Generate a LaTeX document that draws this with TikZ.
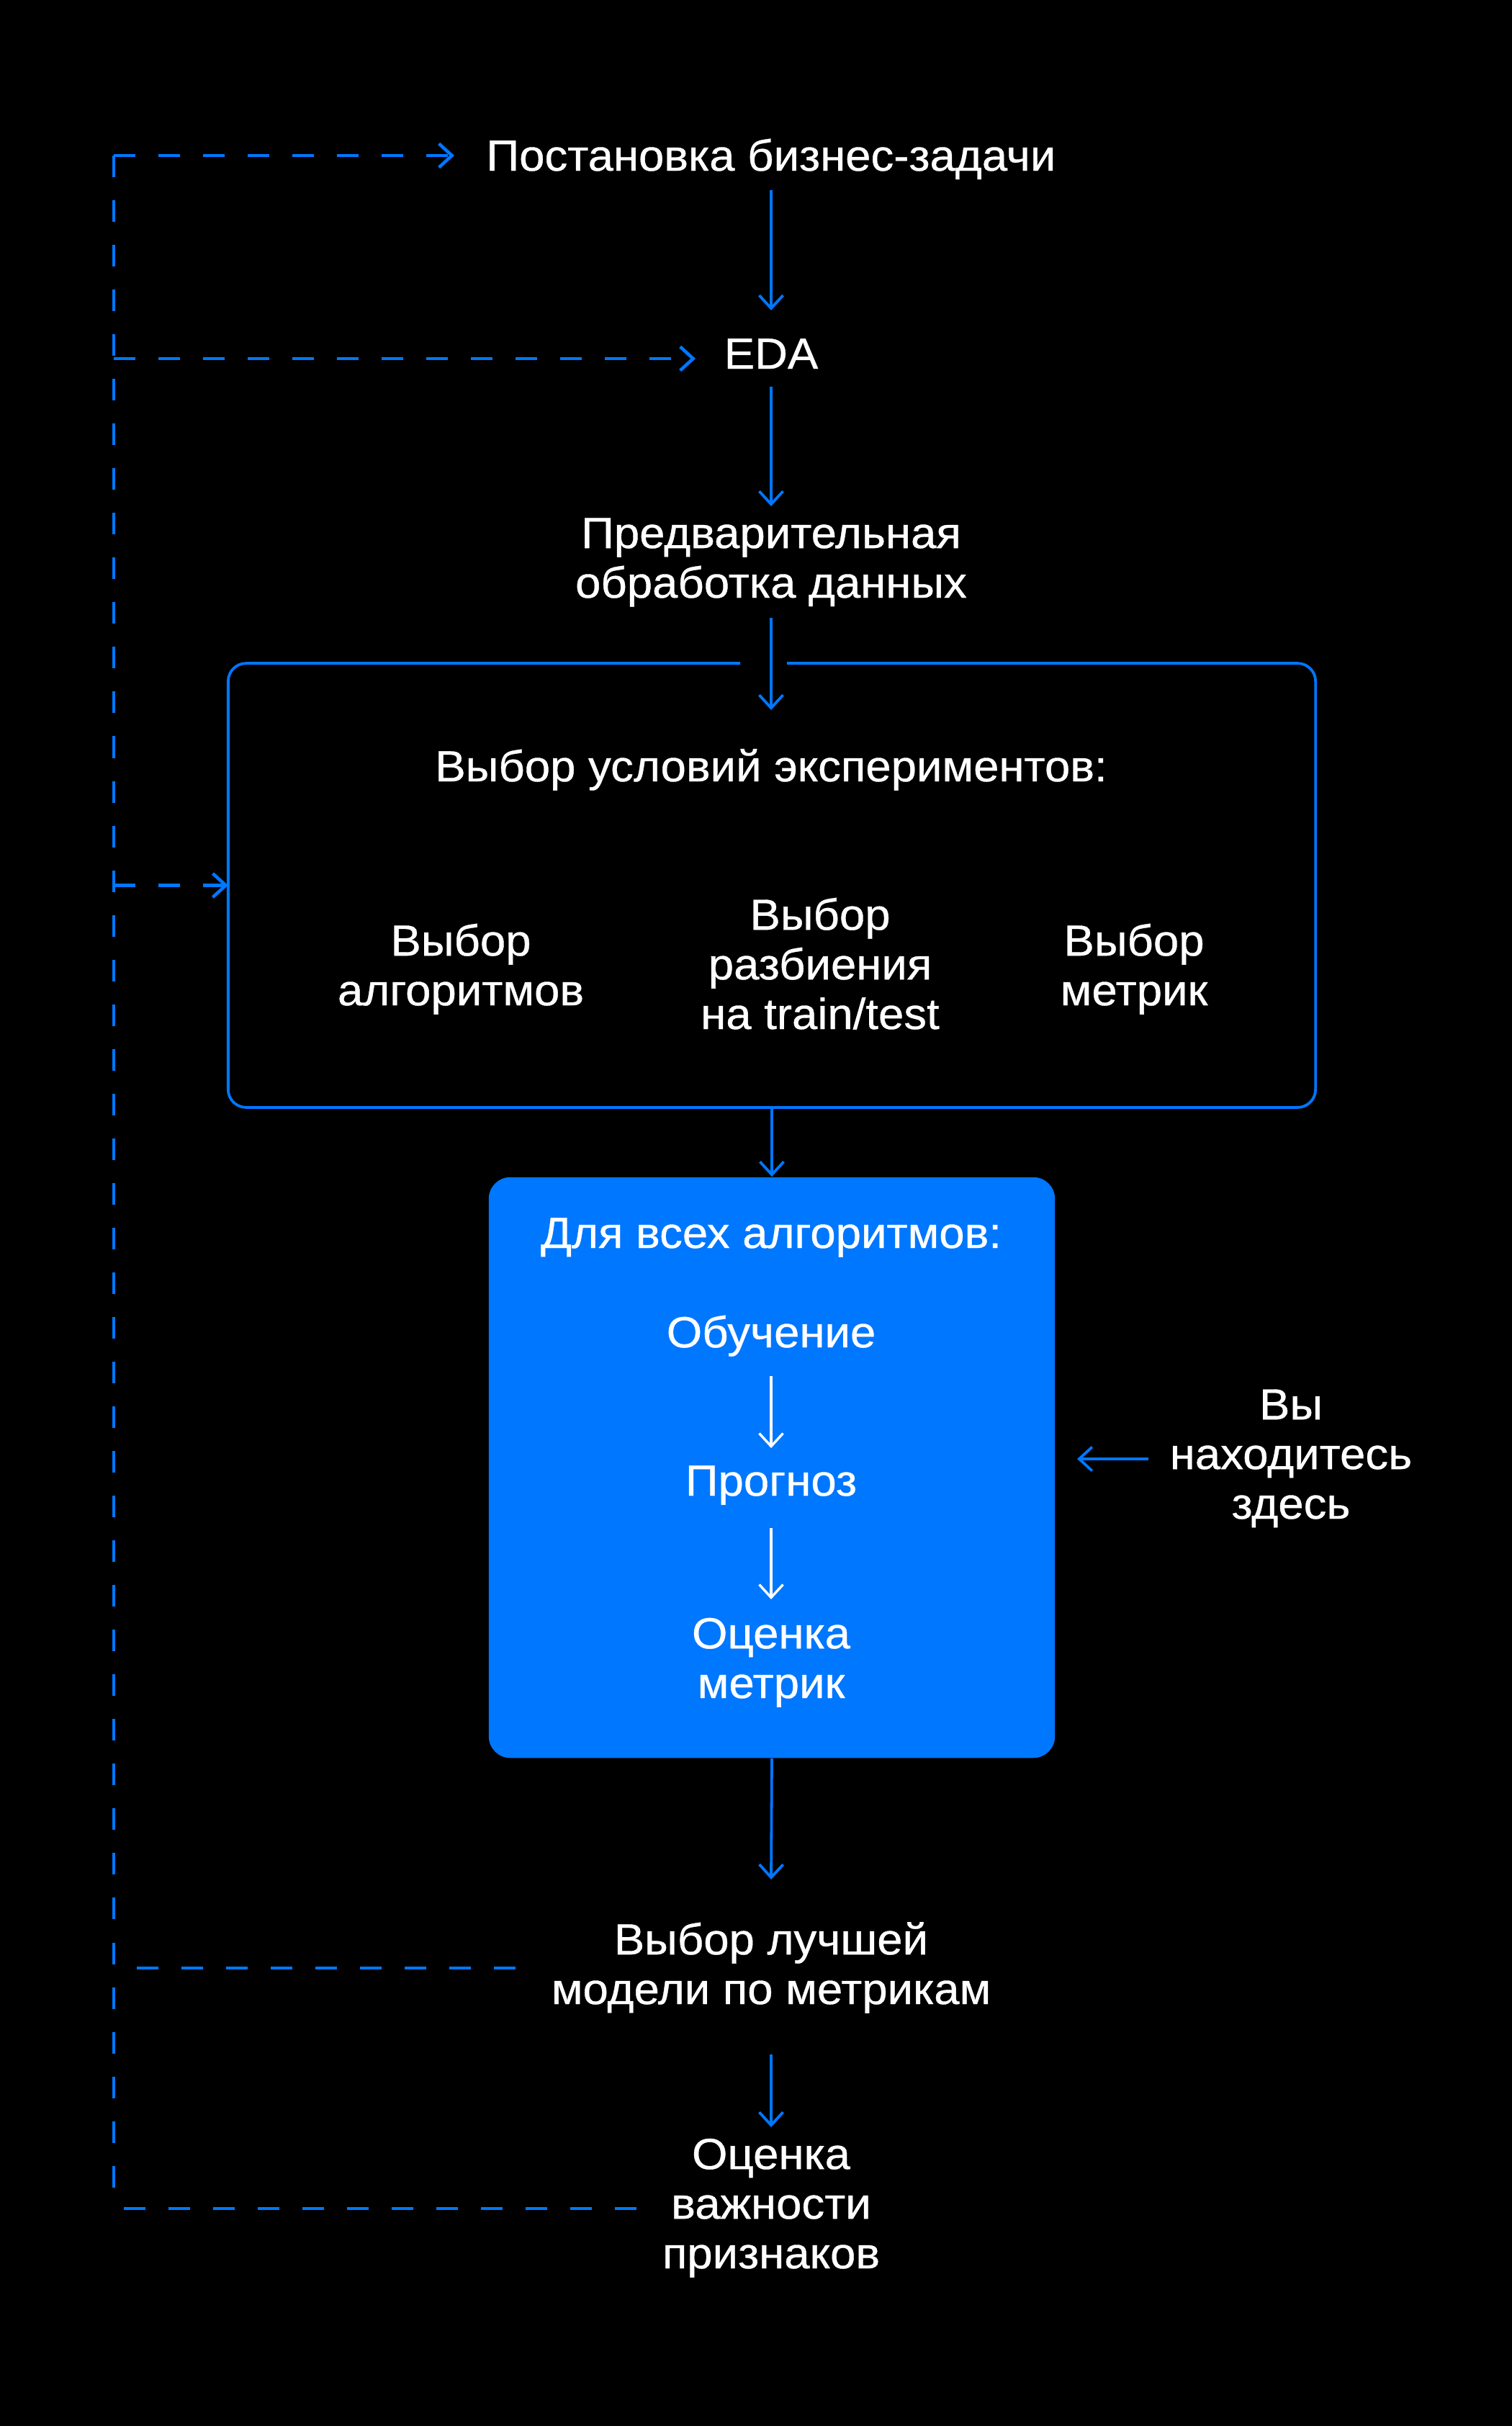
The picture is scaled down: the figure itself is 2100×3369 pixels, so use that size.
\documentclass[tikz,border=0pt]{standalone}
\usepackage{fontspec}
\setmainfont{Liberation Sans}[FakeStretch=1.05,FakeBold=0.6]
\usetikzlibrary{arrows.meta,calc}
\definecolor{accent}{RGB}{0,119,255}
\begin{document}
\begin{tikzpicture}[x=0.01cm,y=-0.01cm,
  lbl/.style={text=white, font=\fontsize{17.2pt}{19.6pt}\selectfont, align=center, inner sep=0pt, anchor=base},
  arr/.style={draw=accent, line width=0.038cm, -{Straight Barb[length=0.18cm,width=0.33cm]}},
  warr/.style={draw=white, line width=0.034cm, -{Straight Barb[length=0.18cm,width=0.33cm]}},
  dsh/.style={draw=accent, line width=0.045cm, dash pattern=on 0.3cm off 0.32cm},
  dsharr/.style={dsh, -{Straight Barb[length=0.18cm,width=0.33cm]}},
  frame/.style={inner sep=0pt, minimum width=15.08cm, minimum height=6.15cm},
  bluebox/.style={fill=accent, rounded corners=0.3cm, inner sep=0pt, minimum width=7.86cm, minimum height=8.06cm}
]
\fill[black] (0,0) rectangle (2100,3369);
\useasboundingbox (0,0) rectangle (2100,3369);

% main column (multi-line nodes are placed at the baseline of their last line)
\node[lbl] (post) at (1071,237) {Постановка бизнес-задачи};
\node[lbl] (eda) at (1071,512) {EDA};
\node[lbl] (pred) at (1071,830) {Предварительная\\обработка данных};

\node[frame] (cond) at (1072,1229.5) {};
\draw[draw=accent, line width=0.038cm, rounded corners=0.25cm]
  ($(cond.north)+(21,0)$) -- (cond.north east) -- (cond.south east) -- (cond.south west) -- (cond.north west) -- ($(cond.north)+(-44,0)$);
\node[lbl] (condt) at (1071,1085) {Выбор условий экспериментов:};
\node[lbl] (alg) at (640,1396) {Выбор\\алгоритмов};
\node[lbl] (split) at (1139,1429) {Выбор\\разбиения\\на train/test};
\node[lbl] (metr) at (1575,1396) {Выбор\\метрик};

\node[bluebox] (algo) at (1072,2038) {};
\node[lbl] (forall) at (1071,1733) {Для всех алгоритмов:};
\node[lbl] (train) at (1071,1871) {Обучение};
\node[lbl] (fcst) at (1071,2077) {Прогноз};
\node[lbl] (eval) at (1071,2358) {Оценка\\метрик};

\node[lbl] (here) at (1793,2109) {Вы\\находитесь\\здесь};

\node[lbl] (best) at (1071,2783) {Выбор лучшей\\модели по метрикам};
\node[lbl] (imp) at (1071,3150) {Оценка\\важности\\признаков};

% solid arrows
\draw[arr] ($(post.base)+(0,27)$) -- ($(eda.base)+(0,-81)$);
\draw[arr] ($(eda.base)+(0,25)$) -- ($(pred.base)+(0,-127)$);
\draw[arr] ($(pred.base)+(0,28)$) -- ($(condt.base)+(0,-99)$);
\draw[arr] (cond.south) -- (algo.north);
\draw[warr] ($(train.base)+(0,40)$) -- ($(fcst.base)+(0,-66)$);
\draw[warr] ($(fcst.base)+(0,45)$) -- ($(eval.base)+(0,-137)$);
\draw[arr] (algo.south) -- ($(best.base)+(0,-173)$);
\draw[arr] ($(best.base)+(0,70)$) -- ($(imp.base)+(0,-196)$);
\draw[arr] ($(here.base)+(-198,-83)$) -- ($(here.base)+(-297,-83)$);

% dashed feedback
\coordinate (sTop) at (158,216);
\coordinate (sBot) at (158,3067);
\coordinate (sEda) at (158,498);
\coordinate (sCond) at (158,1229.5);
\coordinate (sBest) at (158,2733);
\draw[dsh] (sTop) -- (sBot);
\draw[dsharr] (sTop) -- ($(post.base)+(-440,-21)$);
\draw[dsharr] (sEda) -- ($(eda.base)+(-105,-14)$);
\draw[dsharr] (sCond) -- (cond.west);
\draw[dsh] ($(best.base)+(-355,-50)$) -- (sBest);
\draw[dsh] ($(imp.base)+(-187,-83)$) -- (sBot);
\end{tikzpicture}
\end{document}
